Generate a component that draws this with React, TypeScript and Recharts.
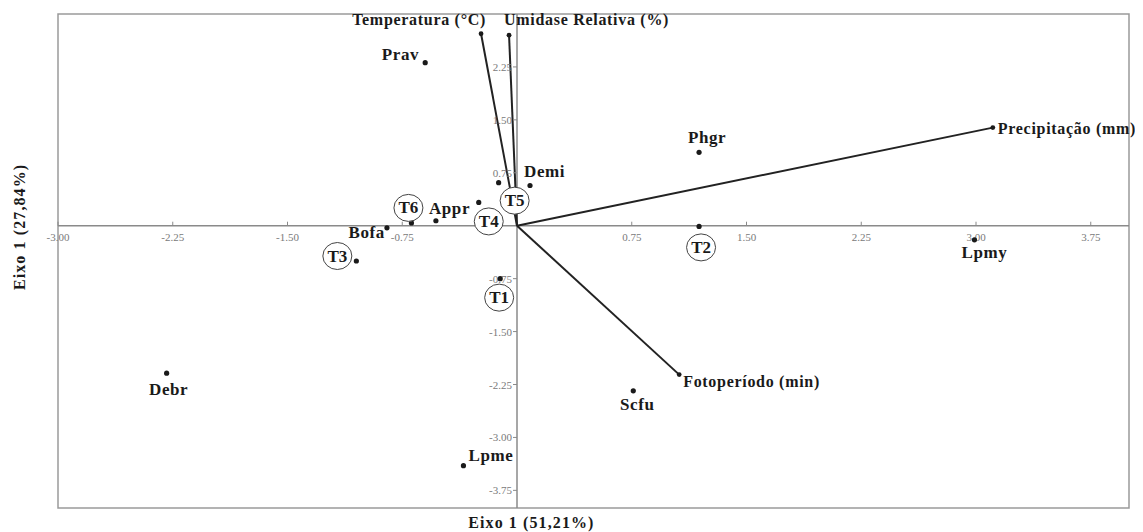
import React from 'react';
import { ScatterChart, Scatter, XAxis, YAxis, ReferenceLine, ReferenceArea } from 'recharts';

// ---- data ----
const speciesNames = ['Prav', 'Demi', 'Appr', 'Bofa', 'Phgr', 'Lpmy', 'Scfu', 'Debr', 'Lpme'];
const speciesX = [-0.6, 0.085, -0.53, -0.85, 1.19, 2.99, 0.76, -2.29, -0.35];
const speciesY = [2.31, 0.57, 0.07, -0.03, 1.04, -0.2, -2.34, -2.09, -3.4];

const treatmentNames = ['T1', 'T2', 'T3', 'T4', 'T5', 'T6'];
const treatmentX = [-0.11, 1.19, -1.05, -0.25, -0.12, -0.69];
const treatmentY = [-0.75, -0.01, -0.5, 0.33, 0.61, 0.04];

const variableNames = ['Temperatura (°C)', 'Umidase Relativa (%)', 'Precipitação (mm)', 'Fotoperíodo (min)'];
const variableX = [-0.235, -0.052, 3.11, 1.06];
const variableY = [2.72, 2.7, 1.39, -2.11];

const xTickValues = [-3, -2.25, -1.5, -0.75, 0.75, 1.5, 2.25, 3, 3.75];
const yTickValues = [2.25, 1.5, 0.75, -0.75, -1.5, -2.25, -3, -3.75];

const xAxisTitle = 'Eixo 1 (51,21%)';
const yAxisTitle = 'Eixo 1 (27,84%)';

// ---- built tables ----
const speciesData = speciesNames.map((name, i) => ({ name, x: speciesX[i], y: speciesY[i] }));
const treatmentData = treatmentNames.map((name, i) => ({ name, x: treatmentX[i], y: treatmentY[i] }));
const variableData = variableNames.map((name, i) => ({ name, x: variableX[i], y: variableY[i] }));
const xTickData = xTickValues.map((v) => ({ x: v, y: 0, label: v.toFixed(2) }));
const yTickData = yTickValues.map((v) => ({ x: 0, y: v, label: v.toFixed(2) }));

// ---- styles ----
const FONT = '"Liberation Serif", "Times New Roman", serif';
const INK = '#1a1a1a';
const AXIS = '#8a8a8a';

const speciesLabelPos: Record<string, { dx: number; dy: number; anchor: string }> = {
  Prav: { dx: -6, dy: -3, anchor: 'end' },
  Demi: { dx: -6, dy: -8, anchor: 'start' },
  Appr: { dx: -7, dy: -7, anchor: 'start' },
  Bofa: { dx: -2, dy: 10, anchor: 'end' },
  Phgr: { dx: 8, dy: -9, anchor: 'middle' },
  Lpmy: { dx: 10, dy: 18, anchor: 'middle' },
  Scfu: { dx: 4, dy: 19, anchor: 'middle' },
  Debr: { dx: 2, dy: 22, anchor: 'middle' },
  Lpme: { dx: 5, dy: -5, anchor: 'start' },
};

const treatmentLabelPos: Record<string, { dx: number; dy: number }> = {
  T1: { dx: -1, dy: 19 },
  T2: { dx: 2, dy: 21 },
  T3: { dx: -19, dy: -5 },
  T4: { dx: 10, dy: 19 },
  T5: { dx: 16, dy: 18 },
  T6: { dx: -3, dy: -15 },
};

const variableLabelPos: Record<string, { dx: number; dy: number; anchor: string }> = {
  'Temperatura (°C)': { dx: 5, dy: -9, anchor: 'end' },
  'Umidase Relativa (%)': { dx: -5, dy: -10, anchor: 'start' },
  'Precipitação (mm)': { dx: 5, dy: 6, anchor: 'start' },
  'Fotoperíodo (min)': { dx: 4, dy: 12, anchor: 'start' },
};

const labelText = {
  fontFamily: FONT,
  fontWeight: 700,
  fontSize: 17,
  letterSpacing: 0.6,
  fill: INK,
};

const SpeciesShape = (props: any) => {
  const { cx, cy, payload } = props;
  const p = speciesLabelPos[payload.name];
  return (
    <g>
      <circle cx={cx} cy={cy} r={2.6} fill={INK} />
      <text x={cx + p.dx} y={cy + p.dy} textAnchor={p.anchor} style={labelText}>
        {payload.name}
      </text>
    </g>
  );
};

const TreatmentShape = (props: any) => {
  const { cx, cy, payload } = props;
  const p = treatmentLabelPos[payload.name];
  const lx = cx + p.dx;
  const ly = cy + p.dy;
  return (
    <g>
      <circle cx={cx} cy={cy} r={2.6} fill={INK} />
      <ellipse cx={lx} cy={ly} rx={14.5} ry={13.5} fill="#fff" stroke="#444" strokeWidth={1} />
      <text x={lx} y={ly + 5.5} textAnchor="middle" style={{ ...labelText, letterSpacing: 0 }}>
        {payload.name}
      </text>
    </g>
  );
};

const VariableShape = (props: any) => {
  const { cx, cy, payload } = props;
  const p = variableLabelPos[payload.name];
  return (
    <g>
      <circle cx={cx} cy={cy} r={2.4} fill={INK} />
      <text
        x={cx + p.dx}
        y={cy + p.dy}
        textAnchor={p.anchor}
        style={{ ...labelText, fontSize: 16, letterSpacing: 0.7 }}
      >
        {payload.name}
      </text>
    </g>
  );
};

const tickText = { fontFamily: FONT, fontSize: 11, fill: '#7a7a7a' };

const XTickShape = (props: any) => {
  const { cx, cy, payload } = props;
  return (
    <g>
      <line x1={cx} y1={cy - 4} x2={cx} y2={cy} stroke={AXIS} strokeWidth={1} />
      <text x={cx} y={cy + 15} textAnchor="middle" style={tickText}>
        {payload.label}
      </text>
    </g>
  );
};

const YTickShape = (props: any) => {
  const { cx, cy, payload } = props;
  return (
    <g>
      <line x1={cx - 4} y1={cy} x2={cx} y2={cy} stroke={AXIS} strokeWidth={1} />
      <text x={cx - 5} y={cy + 4} textAnchor="end" style={tickText}>
        {payload.label}
      </text>
    </g>
  );
};

const titleStyle = { fontFamily: FONT, fontWeight: 700, fontSize: 16, fill: INK, letterSpacing: 1.1 };

const XTitle = (props: any) => {
  const vb = props.viewBox;
  return (
    <text x={vb.x + vb.width * 0.442} y={vb.y + 20} textAnchor="middle" style={titleStyle}>
      {xAxisTitle}
    </text>
  );
};

const YTitle = (props: any) => {
  const vb = props.viewBox;
  const x = vb.x + 12;
  const y = vb.y + vb.height * 0.431;
  return (
    <text
      x={x}
      y={y}
      textAnchor="middle"
      dominantBaseline="central"
      transform={`rotate(-90 ${x} ${y})`}
      style={titleStyle}
    >
      {yAxisTitle}
    </text>
  );
};

export default function App() {
  return (
    <div style={{ width: 1135, height: 524 }}>
      <ScatterChart width={1135} height={524} margin={{ top: 6, right: 14, bottom: 0, left: 0 }}>
        <XAxis
          type="number"
          dataKey="x"
          domain={[-3, 4]}
          tick={false}
          tickLine={false}
          axisLine={false}
          height={24}
          label={<XTitle />}
        />
        <YAxis
          type="number"
          dataKey="y"
          domain={[-4, 3]}
          tick={false}
          tickLine={false}
          axisLine={false}
          width={50}
          label={<YTitle />}
        />
        <ReferenceArea x1={-3} x2={4} y1={-4} y2={3} fill="none" fillOpacity={0} stroke="#9a9a9a" strokeWidth={1.5} />
        <ReferenceLine x={0} stroke={AXIS} strokeWidth={1.5} />
        <ReferenceLine y={0} stroke={AXIS} strokeWidth={1.5} />
        <Scatter data={xTickData} shape={<XTickShape />} isAnimationActive={false} />
        <Scatter data={yTickData} shape={<YTickShape />} isAnimationActive={false} />
        {variableData.map((v) => (
          <ReferenceLine
            key={v.name}
            segment={[
              { x: 0, y: 0 },
              { x: v.x, y: v.y },
            ]}
            stroke="#222"
            strokeWidth={2}
          />
        ))}
        <Scatter data={variableData} shape={<VariableShape />} isAnimationActive={false} />
        <Scatter data={speciesData} shape={<SpeciesShape />} isAnimationActive={false} />
        <Scatter data={treatmentData} shape={<TreatmentShape />} isAnimationActive={false} />
      </ScatterChart>
    </div>
  );
}
